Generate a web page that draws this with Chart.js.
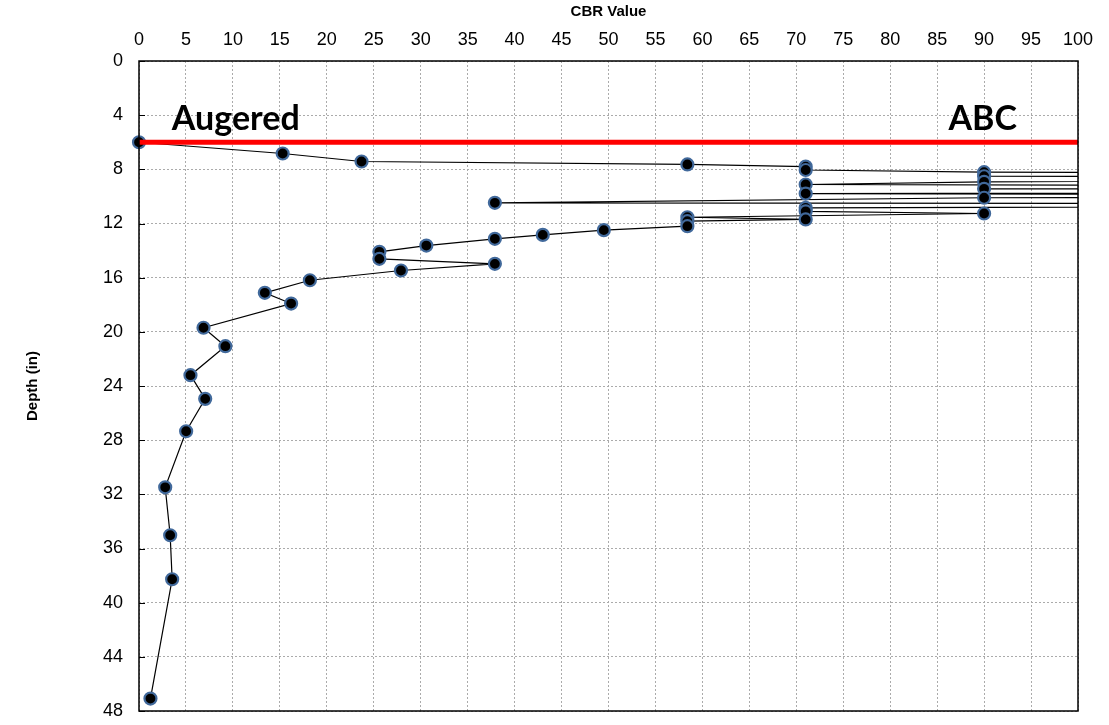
<!DOCTYPE html>
<html>
<head>
<meta charset="utf-8">
<script src="https://cdn.jsdelivr.net/npm/chart.js@4/dist/chart.umd.min.js"></script>
<style>
  html, body { margin: 0; padding: 0; background: #fff; }
  #wrap { width: 1109px; height: 725px; }
</style>
</head>
<body>
<div id="wrap"><canvas id="myChart" width="1109" height="725"></canvas></div>
<script>
// CBR profile (values past 100 run off the right edge)
const depths = [6.0, 6.83, 7.42, 7.64, 7.8, 8.05, 8.21, 8.35, 8.51, 8.7, 8.92, 9.12, 9.3, 9.44, 9.6,
  9.79, 10.0, 10.1, 10.47, 10.6, 10.84, 11.1, 11.26, 11.54, 11.7, 11.83, 12.2, 12.49, 12.84, 13.13,
  13.63, 14.09, 14.61, 14.98, 15.47, 16.19, 17.12, 17.91, 19.7, 21.06, 23.2, 24.95, 27.34, 31.48,
  35.02, 38.27, 47.08];
const cbrValues = [0, 15.3, 23.7, 58.4, 71, 71, 90, 200, 90, 200, 90, 71, 200, 90, 200,
  71, 200, 90, 37.9, 200, 71, 71, 90, 58.4, 71, 58.4, 58.4, 49.5, 43.0, 37.9,
  30.6, 25.6, 25.6, 37.9, 27.9, 18.2, 13.4, 16.2, 6.87, 9.2, 5.48, 7.05, 5.02, 2.79,
  3.32, 3.53, 1.22];
const boundaryDepth = 6;
const boundaryX = [0, 100];
const xTicks = [0, 5, 10, 15, 20, 25, 30, 35, 40, 45, 50, 55, 60, 65, 70, 75, 80, 85, 90, 95, 100];
const yTicks = [0, 4, 8, 12, 16, 20, 24, 28, 32, 36, 40, 44, 48];
const zoneLabels = ['Augered', 'ABC'];
const zoneLabelX = [3.5, 86.2];
const zoneLabelDepth = 4.25;

const profile = cbrValues.map((v, i) => ({ x: v, y: depths[i] }));
const boundary = boundaryX.map((v) => ({ x: v, y: boundaryDepth }));

const labelPlugin = {
  id: 'zoneLabels',
  afterDatasetsDraw(chart) {
    const { ctx, chartArea, scales } = chart;
    ctx.save();
    ctx.font = 'bold 34px Lato, "Open Sans", sans-serif';
    ctx.fillStyle = '#000';
    ctx.textBaseline = 'middle';
    ctx.textAlign = 'left';
    zoneLabels.forEach((t, i) => {
      ctx.fillText(t, scales.x.getPixelForValue(zoneLabelX[i]), scales.y.getPixelForValue(zoneLabelDepth));
    });
    // frame + inside tick marks on the depth axis
    ctx.strokeStyle = '#000';
    ctx.lineWidth = 1.5;
    ctx.strokeRect(chartArea.left, chartArea.top, chartArea.right - chartArea.left, chartArea.bottom - chartArea.top);
    ctx.lineWidth = 1;
    yTicks.forEach((d) => {
      const y = Math.round(scales.y.getPixelForValue(d)) + 0.5;
      ctx.beginPath();
      ctx.moveTo(chartArea.left, y);
      ctx.lineTo(chartArea.left + 6, y);
      ctx.stroke();
    });
    ctx.restore();
  }
};

new Chart(document.getElementById('myChart'), {
  type: 'scatter',
  data: {
    datasets: [
      {
        data: boundary,
        showLine: true,
        borderColor: '#ff0000',
        borderWidth: 5,
        pointRadius: 0,
      },
      {
        data: profile,
        showLine: true,
        clip: { left: 10, top: 0, right: 0, bottom: 10 },
        borderColor: '#000',
        borderWidth: 1.2,
        pointRadius: 6,
        pointBorderWidth: 2.2,
        pointBackgroundColor: '#000',
        pointBorderColor: '#41699b',
      },
    ],
  },
  options: {
    responsive: false,
    animation: false,
    layout: { padding: { left: 0, top: 0, right: 31, bottom: 14 } },
    plugins: {
      legend: { display: false },
      tooltip: { enabled: false },
    },
    scales: {
      x: {
        type: 'linear',
        position: 'top',
        min: 0,
        max: 100,
        afterFit: (s) => { s.height = 61; s.paddingLeft = 0; s.paddingRight = 0; },
        afterBuildTicks: (s) => { s.ticks = xTicks.map((v) => ({ value: v })); },
        title: {
          display: true,
          text: 'CBR Value',
          color: '#000',
          font: { family: 'Arial, "Liberation Sans"', size: 15, weight: 'bold' },
          padding: { top: 3, bottom: 0 },
        },
        ticks: {
          color: '#000',
          padding: 10,
          maxRotation: 0,
          autoSkip: false,
          font: { family: 'Arial, "Liberation Sans"', size: 18 },
        },
        grid: { color: '#ababab', drawTicks: false },
        border: { display: false, dash: [2, 2] },
      },
      y: {
        type: 'linear',
        reverse: true,
        min: 0,
        max: 48,
        afterFit: (s) => { s.width = 139; s.paddingTop = 0; s.paddingBottom = 0; },
        afterBuildTicks: (s) => { s.ticks = yTicks.map((v) => ({ value: v })); },
        title: {
          display: true,
          text: 'Depth (in)',
          color: '#000',
          font: { family: 'Arial, "Liberation Sans"', size: 15, weight: 'bold' },
          padding: { top: 24, bottom: 0 },
        },
        ticks: {
          color: '#000',
          padding: 16,
          autoSkip: false,
          font: { family: 'Arial, "Liberation Sans"', size: 18 },
        },
        grid: { color: '#ababab', drawTicks: false },
        border: { display: false, dash: [2, 2] },
      },
    },
  },
  plugins: [labelPlugin],
});
</script>
</body>
</html>
